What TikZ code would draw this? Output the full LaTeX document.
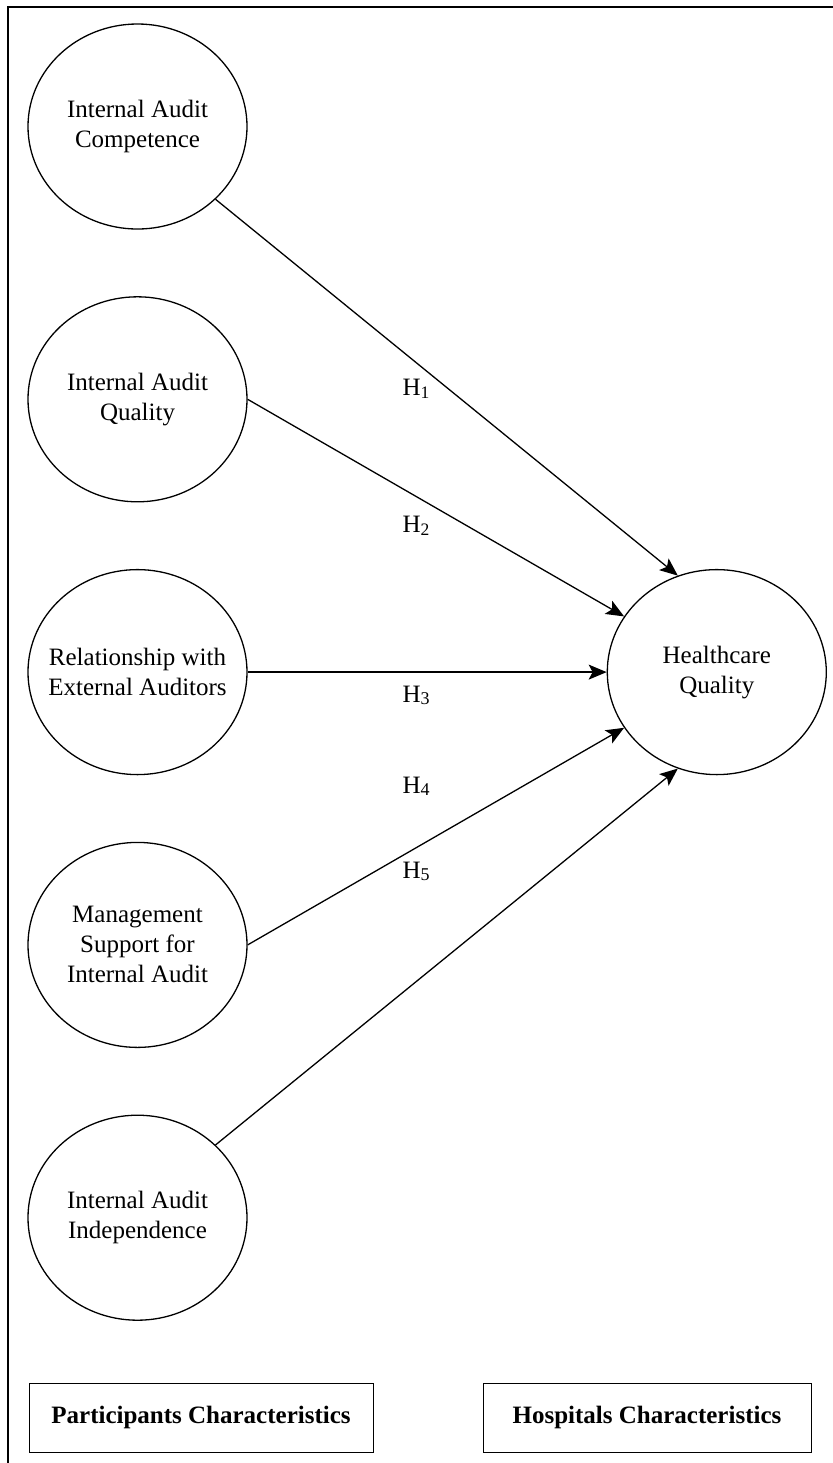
\documentclass[tikz,border=0pt]{standalone}
\usepackage{fontspec}
\setmainfont{Liberation Serif}
\usetikzlibrary{positioning,arrows.meta,shapes.geometric}

\newcommand{\Hlow}[1]{H\raisebox{-0.25ex}{\fontsize{9pt}{9pt}\selectfont #1}}

\begin{document}
\begin{tikzpicture}[
    x = 0.5pt, y = -0.5pt,
    > = {Stealth[length=9pt,width=7.5pt,inset=2pt]},
    node distance = 33.25pt,
    line width = 0.65pt,
    font = \fontsize{12.5pt}{15pt}\selectfont,
    latent/.style = {ellipse, draw, minimum width=109.5pt, minimum height=102.5pt,
                     inner xsep=-10pt, inner ysep=0pt, align=center},
    charbox/.style = {rectangle, draw, line width=0.5pt, minimum height=34.5pt,
                      font=\fontsize{12.5pt}{15pt}\selectfont\bfseries},
    hyp/.style = {inner sep=0pt, anchor=base west}
]
    \useasboundingbox (0,0) rectangle (833,1463);
    \draw[line width=1.25pt] (8,1463) -- (8,7) -- (833,7);

    % constructs
    \node[latent] (comp) at (137.5,126.5) {Internal Audit\\Competence};
    \node[latent, below=of comp] (qual) {Internal Audit\\Quality};
    \node[latent, below=of qual] (rel) {Relationship with\\External Auditors};
    \node[latent, below=of rel] (mgmt) {Management\\Support for\\Internal Audit};
    \node[latent, below=of mgmt] (indep) {Internal Audit\\Independence};
    \node[latent, right=179.5pt of rel] (hq) {Healthcare\\Quality};

    % hypotheses
    \draw[->] (comp.-43.5) -- (hq.112.4);
    \draw[->] (qual.east) -- (hq.149.8);
    \draw[->] (rel.east) -- (hq.west);
    \draw[->] (mgmt.east) -- (hq.-149.8);
    \draw[->] (indep.43.5) -- (hq.-112.3);

    \node[hyp] (h1) at (402,395) {H\textsubscript{1}};
    \node[hyp] (h2) at (402,532) {H\textsubscript{2}};
    \node[hyp] (h3) at (402,702) {\Hlow{3}};
    \node[hyp] (h4) at (402,793) {\Hlow{4}};
    \node[hyp] (h5) at (402,878) {\Hlow{5}};

    % controls
    \node[charbox, minimum width=172pt] (part) at (201,1417.5) {Participants Characteristics};
    \node[charbox, minimum width=164pt] (hosp) at (647,1417.5) {Hospitals Characteristics};
\end{tikzpicture}
\end{document}
